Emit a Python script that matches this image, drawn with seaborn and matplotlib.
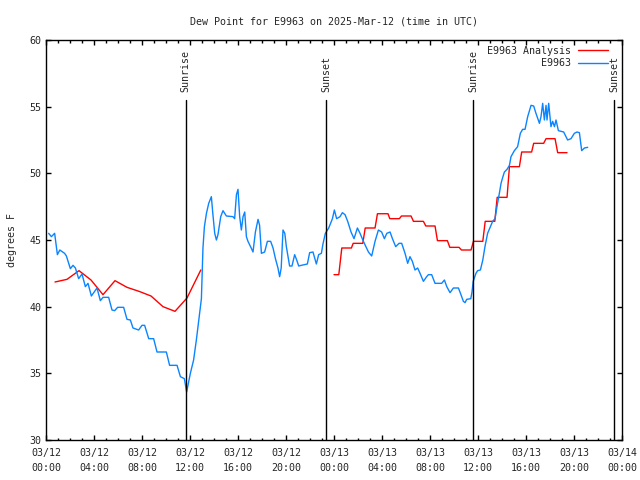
import matplotlib
matplotlib.use("Agg")
import matplotlib.pyplot as plt
import matplotlib.dates as mdates
from matplotlib.lines import Line2D
import numpy as np
import pandas as pd
import seaborn as sns

# ---------------------------------------------------------------------------
# Data (hours after 2025-03-12 00:00 UTC, dew point in degrees F)
# ---------------------------------------------------------------------------
START = pd.Timestamp("2025-03-12 00:00")

obs_hours = [
    0.22, 0.45, 0.72, 0.95, 1.15, 1.55, 1.7, 2.03, 2.25, 2.45, 2.72, 3.0,
    3.28, 3.5, 3.78, 4.25, 4.53, 4.75, 5.22, 5.5, 5.72, 5.97, 6.47, 6.75,
    7.03, 7.25, 7.72, 8.0, 8.22, 8.56, 8.97, 9.25, 10.03, 10.3, 10.92, 11.2,
    11.53, 11.72, 12.03, 12.3, 12.53, 12.95, 13.08, 13.2, 13.37, 13.56, 13.78,
    13.9, 14.06, 14.2, 14.33, 14.56, 14.75, 15.03, 15.58, 15.72, 15.87, 16.0,
    16.14, 16.28, 16.42, 16.56, 16.7, 16.83, 17.1, 17.25, 17.45, 17.67, 17.8,
    17.95, 18.22, 18.45, 18.72, 18.92, 19.12, 19.33, 19.47, 19.6, 19.75, 19.9,
    20.03, 20.3, 20.5, 20.72, 20.87, 21.06, 21.28, 21.78, 21.97, 22.25, 22.53,
    22.72, 22.95, 23.08, 23.28, 23.56, 23.87, 24.03, 24.22, 24.5, 24.7, 24.92,
    25.14, 25.42, 25.67, 25.95, 26.17, 26.45, 26.87, 27.14, 27.42, 27.7, 27.97,
    28.2, 28.4, 28.67, 28.87, 29.14, 29.42, 29.64, 29.92, 30.14, 30.33, 30.53,
    30.75, 30.97, 31.17, 31.45, 31.72, 31.87, 32.14, 32.42, 32.97, 33.2, 33.4,
    33.67, 33.95, 34.37, 34.58, 34.78, 34.92, 35.06, 35.4, 35.5, 35.6, 35.83,
    35.97, 36.2, 36.4, 36.58, 36.8, 37.03, 37.22, 37.42, 37.58, 37.78, 37.92,
    38.06, 38.2, 38.42, 38.62, 38.75, 39.03, 39.3, 39.53, 39.72, 39.92, 40.14,
    40.42, 40.64, 40.83, 41.12, 41.25, 41.39, 41.53, 41.67, 41.75, 41.89, 42.08,
    42.22, 42.37, 42.5, 42.7, 43.14, 43.47, 43.75, 44.03, 44.25, 44.45, 44.64,
    44.87, 45.14,
]
obs_dewpt = [
    45.5, 45.25, 45.5, 43.9, 44.25, 44.0, 43.8, 42.85, 43.1, 42.9, 42.1, 42.45,
    41.5, 41.75, 40.8, 41.4, 40.45, 40.7, 40.7, 39.75, 39.7, 39.95, 39.95, 39.05,
    39.0, 38.4, 38.25, 38.6, 38.6, 37.6, 37.6, 36.6, 36.6, 35.6, 35.6, 34.75,
    34.6, 33.6, 35.0, 36.0, 37.5, 40.6, 44.4, 46.0, 47.0, 47.75, 48.25,
    47.0, 45.5, 45.0, 45.4, 46.75, 47.2, 46.8, 46.75, 46.6, 48.4, 48.8,
    46.75, 45.75, 46.75, 47.1, 45.25, 44.9, 44.4, 44.1, 45.6, 46.55, 46.1,
    44.0, 44.1, 44.9, 44.9, 44.4, 43.6, 42.9, 42.25, 42.9, 45.75, 45.5,
    44.5, 43.05, 43.05, 43.9, 43.55, 43.05, 43.1, 43.2, 44.05, 44.1, 43.2,
    43.9, 44.0, 44.7, 45.5, 45.9, 46.6, 47.25, 46.6, 46.75, 47.05, 46.9,
    46.4, 45.6, 45.1, 45.9, 45.5, 44.9, 44.1, 43.8, 44.9, 45.75, 45.6,
    45.1, 45.5, 45.6, 45.1, 44.5, 44.75, 44.75, 44.0, 43.25, 43.75, 43.4,
    42.75, 42.9, 42.5, 41.9, 42.25, 42.4, 42.4, 41.75, 41.75, 42.0, 41.5,
    41.05, 41.4, 41.4, 40.9, 40.4, 40.3, 40.55, 40.6, 41.1, 41.9, 42.5,
    42.7, 42.75, 43.5, 44.5, 45.5, 46.0, 46.4, 46.6, 47.5, 48.5, 49.25,
    49.7, 50.1, 50.3, 50.6, 51.25, 51.7, 52.0, 53.0, 53.3, 53.3, 54.25,
    55.1, 55.05, 54.5, 53.75, 54.25, 55.25, 54.0, 55.1, 54.0, 55.25, 53.5,
    53.9, 53.5, 54.0, 53.2, 53.1, 52.5, 52.6, 53.0, 53.1, 53.05, 51.7,
    51.9, 51.95,
]

# analysis, first day (smooth)
ana1_hours = [0.75, 1.75, 2.75, 3.75, 4.75, 5.75, 6.75, 7.75, 8.75, 9.75,
              10.75, 11.75, 12.9]
ana1_dewpt = [41.85, 42.05, 42.7, 42.0, 40.9, 41.95, 41.45, 41.15, 40.8,
              40.0, 39.65, 40.65, 42.75]

# analysis, second day (hourly steps)
ana2_hours = [24.0, 24.4, 24.65, 25.45, 25.6, 26.4, 26.6, 27.42, 27.62, 28.5,
              28.65, 29.45, 29.62, 30.42, 30.62, 31.45, 31.65, 32.42, 32.62,
              33.45, 33.65, 34.42, 34.62, 35.42, 35.62, 36.4, 36.6, 37.4,
              37.6, 38.42, 38.62, 39.45, 39.64, 40.47, 40.64, 41.47, 41.67,
              42.42, 42.64, 43.42]
ana2_dewpt = [42.4, 42.4, 44.4, 44.4, 44.75, 44.75, 45.9, 45.9, 46.97, 46.97,
              46.6, 46.6, 46.8, 46.8, 46.4, 46.4, 46.05, 46.05, 44.95,
              44.95, 44.45, 44.45, 44.25, 44.25, 44.9, 44.9, 46.4, 46.4,
              48.2, 48.2, 50.5, 50.5, 51.6, 51.6, 52.25, 52.25, 52.6,
              52.6, 51.55, 51.55]

sun_events = ["Sunrise", "Sunset", "Sunrise", "Sunset"]
sun_times = ["2025-03-12 11:38", "2025-03-12 23:20",
             "2025-03-13 11:35", "2025-03-13 23:20"]

STATION = "E9963"
RED = "#ff0000"
BLUE = "#0a84ff"


def _frame(hours, values, segment):
    return pd.DataFrame({
        "time": START + pd.to_timedelta(hours, unit="h"),
        "dewpt": values,
        "segment": segment,
    })


obs = _frame(obs_hours, obs_dewpt, "obs")
ana = pd.concat([_frame(ana1_hours, ana1_dewpt, "a1"),
                 _frame(ana2_hours, ana2_dewpt, "a2")], ignore_index=True)

# ---------------------------------------------------------------------------
# Plot
# ---------------------------------------------------------------------------
sns.set_style("ticks")
plt.rcParams["font.family"] = ["DejaVu Sans Mono"]
FS = 7.2

fig = plt.figure(figsize=(6.4, 4.8), dpi=100)
ax = fig.add_axes([46 / 640, 40 / 480, 576 / 640, 400 / 480])

sns.lineplot(data=ana, x="time", y="dewpt", units="segment", estimator=None,
             color=RED, linewidth=1.0, ax=ax)
sns.lineplot(data=obs, x="time", y="dewpt", color=BLUE, linewidth=1.0,
             estimator=None, ax=ax)

for name, t in zip(sun_events, sun_times):
    t = pd.Timestamp(t)
    ax.axvline(t, ymin=0, ymax=0.85, color="black", linewidth=1.0)
    ax.text(t, 0.87, name, transform=ax.get_xaxis_transform(), rotation=90,
            ha="center", va="bottom", fontsize=FS)

ax.set_xlim(START, START + pd.Timedelta(hours=48))
ax.set_ylim(30, 60)
ax.set_yticks(np.arange(30, 61, 5))
ax.xaxis.set_major_locator(mdates.HourLocator(byhour=range(0, 24, 4)))
ax.xaxis.set_minor_locator(mdates.HourLocator())
ax.xaxis.set_major_formatter(mdates.DateFormatter("%m/%d\n%H:%M"))

ax.tick_params(which="both", direction="in", top=True, right=True,
               labelsize=FS, width=1.0, color="black")
ax.tick_params(which="major", length=3.6)
ax.tick_params(which="minor", length=1.8)
ax.tick_params(axis="x", pad=6)
for lbl in ax.get_xticklabels():
    lbl.set_linespacing(1.6)
for s in ax.spines.values():
    s.set_linewidth(1.0)
    s.set_color("black")

ax.set_xlabel("")
ax.set_ylabel("degrees F", fontsize=FS, labelpad=9)
ax.set_title(f"Dew Point for {STATION} on 2025-Mar-12 (time in UTC)",
             fontsize=FS, pad=11)

handles = [Line2D([], [], color=RED, linewidth=1.0),
           Line2D([], [], color=BLUE, linewidth=1.0)]
ax.legend(handles, [f"{STATION} Analysis", STATION], loc="upper right",
          bbox_to_anchor=(1 - 7 / 576, 1 + 1 / 400),
          frameon=False, markerfirst=False, fontsize=FS, handlelength=3.0,
          labelspacing=0.25, borderaxespad=0.3, handletextpad=0.7)

fig.savefig("out.png", dpi=100)
